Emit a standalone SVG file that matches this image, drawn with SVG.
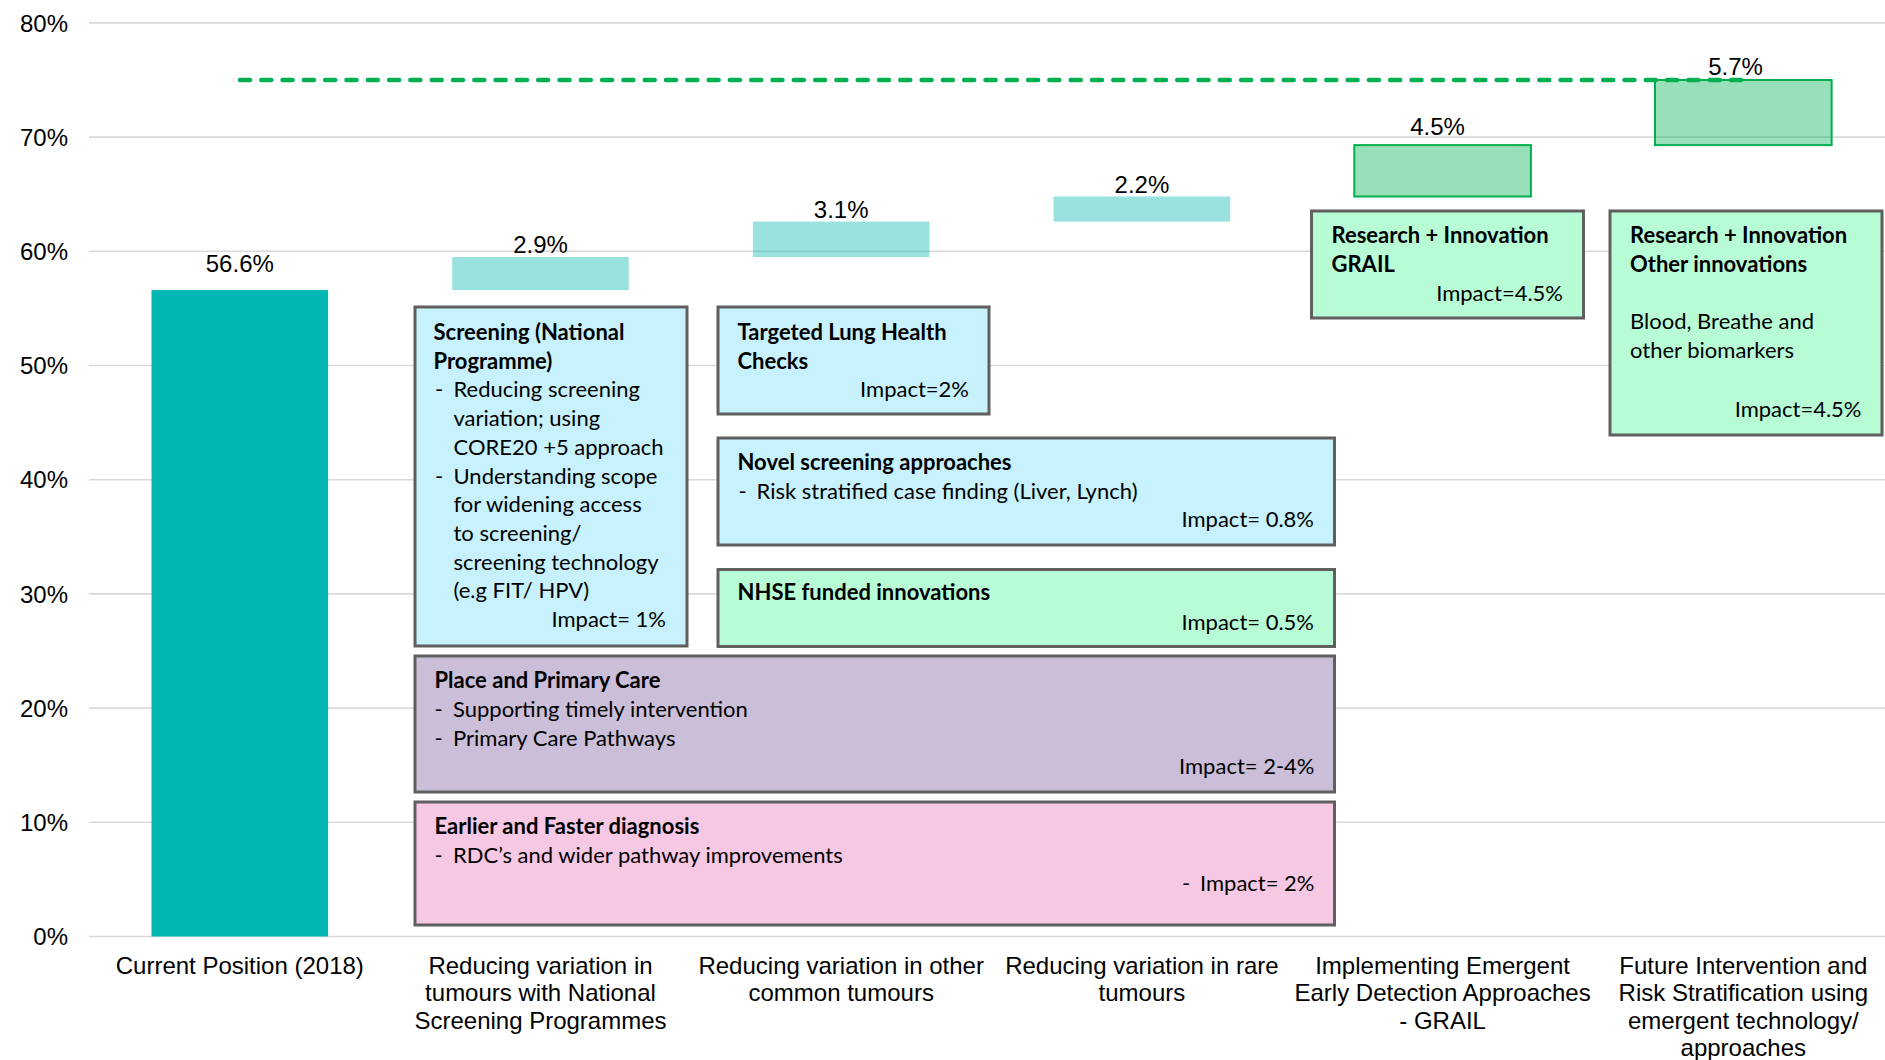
<svg xmlns="http://www.w3.org/2000/svg" width="1885" height="1060" viewBox="0 0 1885 1060">
<style>
.grid{stroke:#d9d9d9;stroke-width:1.6}
.ax{font-family:"Liberation Sans",Arial,sans-serif;font-size:24px;fill:#000}
.yl{text-anchor:end}
.mid{text-anchor:middle}
.inc{fill:#00B7B1;fill-opacity:0.4}
.grn{fill:#00B050;fill-opacity:0.4;stroke:#00B050;stroke-width:2}
.box{stroke:#5f5f5f;stroke-width:3}
.blue{fill:#C7F1FD}
.lgreen{fill:#B8FCD5}
.purple{fill:#CBBED8}
.pink{fill:#F6C8E3}
.bt{font-family:Lato,"Open Sans",sans-serif;font-size:22px;fill:#000}
.b{font-weight:bold}
.r{text-anchor:end}
</style>
<rect width="1885" height="1060" fill="#fff"/>
<g id="gridlines">
<line class="grid" x1="89" y1="22.9" x2="1885" y2="22.9"/>
<line class="grid" x1="89" y1="137.1" x2="1885" y2="137.1"/>
<line class="grid" x1="89" y1="251.3" x2="1885" y2="251.3"/>
<line class="grid" x1="89" y1="365.5" x2="1885" y2="365.5"/>
<line class="grid" x1="89" y1="479.7" x2="1885" y2="479.7"/>
<line class="grid" x1="89" y1="593.9" x2="1885" y2="593.9"/>
<line class="grid" x1="89" y1="708.1" x2="1885" y2="708.1"/>
<line class="grid" x1="89" y1="822.3" x2="1885" y2="822.3"/>
<line class="grid" x1="89" y1="936.5" x2="1885" y2="936.5"/>
</g>
<g id="y-axis" class="ax yl">
<text x="68" y="31.5">80%</text>
<text x="68" y="145.7">70%</text>
<text x="68" y="259.9">60%</text>
<text x="68" y="374.1">50%</text>
<text x="68" y="488.3">40%</text>
<text x="68" y="602.5">30%</text>
<text x="68" y="716.7">20%</text>
<text x="68" y="830.9">10%</text>
<text x="68" y="945.1">0%</text>
</g>
<g id="bar-current">
<rect x="151.5" y="290.1" width="176.6" height="646.4" fill="#00B7B1"/>
<text class="ax mid" x="239.8" y="272">56.6%</text>
</g>
<g id="bar-national">
<rect class="inc" x="452.2" y="257" width="176.6" height="33.1"/>
<text class="ax mid" x="540.5" y="253">2.9%</text>
</g>
<g id="bar-common">
<rect class="inc" x="752.9" y="221.6" width="176.6" height="35.4"/>
<text class="ax mid" x="841.2" y="217.6">3.1%</text>
</g>
<g id="bar-rare">
<rect class="inc" x="1053.6" y="196.5" width="176.6" height="25.1"/>
<text class="ax mid" x="1141.9" y="192.5">2.2%</text>
</g>
<g id="bar-grail">
<rect class="grn" x="1354.3" y="145.1" width="176.6" height="51.4"/>
<text class="ax mid" x="1437.5" y="134.5">4.5%</text>
</g>
<g id="bar-future">
<rect class="grn" x="1655" y="80" width="176.6" height="65.1"/>
<text class="ax mid" x="1735.6" y="74.5">5.7%</text>
</g>
<g id="target-line">
<line x1="240" y1="80" x2="1744" y2="80" stroke="#00B050" stroke-width="4.5" stroke-linecap="round" stroke-dasharray="10 11.3"/>
</g>
<g id="box-screening">
<rect class="box blue" x="415" y="307" width="272" height="339"/>
<g class="bt">
<text class="b" x="433.5" y="340">Screening (National</text>
<text class="b" x="433.5" y="368.7">Programme)</text>
<text x="435" y="397.4">-</text><text x="453.5" y="397.4">Reducing screening</text>
<text x="453.5" y="426.1">variation; using</text>
<text x="453.5" y="454.8">CORE20 +5 approach</text>
<text x="435" y="483.5">-</text><text x="453.5" y="483.5">Understanding scope</text>
<text x="453.5" y="512.2">for widening access</text>
<text x="453.5" y="540.9">to screening/</text>
<text x="453.5" y="569.6">screening technology</text>
<text x="453.5" y="598.3">(e.g FIT/ HPV)</text>
<text class="r" x="666" y="627">Impact= 1%</text>
</g>
</g>
<g id="box-lung">
<rect class="box blue" x="718" y="307" width="271" height="107"/>
<g class="bt">
<text class="b" x="737.5" y="340">Targeted Lung Health</text>
<text class="b" x="737.5" y="368.7">Checks</text>
<text class="r" x="969" y="397.4">Impact=2%</text>
</g>
</g>
<g id="box-novel">
<rect class="box blue" x="718" y="438" width="616.5" height="107"/>
<g class="bt">
<text class="b" x="737.5" y="470">Novel screening approaches</text>
<text x="738.5" y="498.5">-</text><text x="756.5" y="498.5">Risk stratified case finding (Liver, Lynch)</text>
<text class="r" x="1314" y="527">Impact= 0.8%</text>
</g>
</g>
<g id="box-nhse">
<rect class="box lgreen" x="718" y="569.5" width="616.5" height="77"/>
<g class="bt">
<text class="b" x="737.5" y="600">NHSE funded innovations</text>
<text class="r" x="1314" y="630">Impact= 0.5%</text>
</g>
</g>
<g id="box-place">
<rect class="box purple" x="415" y="656" width="919.5" height="136"/>
<g class="bt">
<text class="b" x="434.5" y="688.3">Place and Primary Care</text>
<text x="434.5" y="717">-</text><text x="453" y="717">Supporting timely intervention</text>
<text x="434.5" y="745.7">-</text><text x="453" y="745.7">Primary Care Pathways</text>
<text class="r" x="1314.5" y="774.4">Impact= 2-4%</text>
</g>
</g>
<g id="box-earlier">
<rect class="box pink" x="415" y="802" width="919.5" height="123"/>
<g class="bt">
<text class="b" x="434.5" y="834">Earlier and Faster diagnosis</text>
<text x="434.5" y="862.7">-</text><text x="453" y="862.7">RDC’s and wider pathway improvements</text>
<text x="1182" y="891.4">-</text><text class="r" x="1314.5" y="891.4">Impact= 2%</text>
</g>
</g>
<g id="box-grail">
<rect class="box lgreen" x="1311.5" y="211" width="272" height="107"/>
<g class="bt">
<text class="b" x="1331.5" y="243.3">Research + Innovation</text>
<text class="b" x="1331.5" y="272">GRAIL</text>
<text class="r" x="1563" y="300.7">Impact=4.5%</text>
</g>
</g>
<g id="box-other">
<rect class="box lgreen" x="1610" y="211" width="272" height="224"/>
<g class="bt">
<text class="b" x="1630" y="243.3">Research + Innovation</text>
<text class="b" x="1630" y="272">Other innovations</text>
<text x="1630" y="329.4">Blood, Breathe and</text>
<text x="1630" y="358.1">other biomarkers</text>
<text class="r" x="1861.5" y="416.7">Impact=4.5%</text>
</g>
</g>
<g id="x-axis" class="ax mid">
<text x="239.8" y="973.5">Current Position (2018)</text>
<text x="540.5" y="973.5">Reducing variation in</text>
<text x="540.5" y="1001">tumours with National</text>
<text x="540.5" y="1028.5">Screening Programmes</text>
<text x="841.2" y="973.5">Reducing variation in other</text>
<text x="841.2" y="1001">common tumours</text>
<text x="1141.9" y="973.5">Reducing variation in rare</text>
<text x="1141.9" y="1001">tumours</text>
<text x="1442.6" y="973.5">Implementing Emergent</text>
<text x="1442.6" y="1001">Early Detection Approaches</text>
<text x="1442.6" y="1028.5">- GRAIL</text>
<text x="1743.3" y="973.5">Future Intervention and</text>
<text x="1743.3" y="1001">Risk Stratification using</text>
<text x="1743.3" y="1028.5">emergent technology/</text>
<text x="1743.3" y="1056">approaches</text>
</g>
</svg>
